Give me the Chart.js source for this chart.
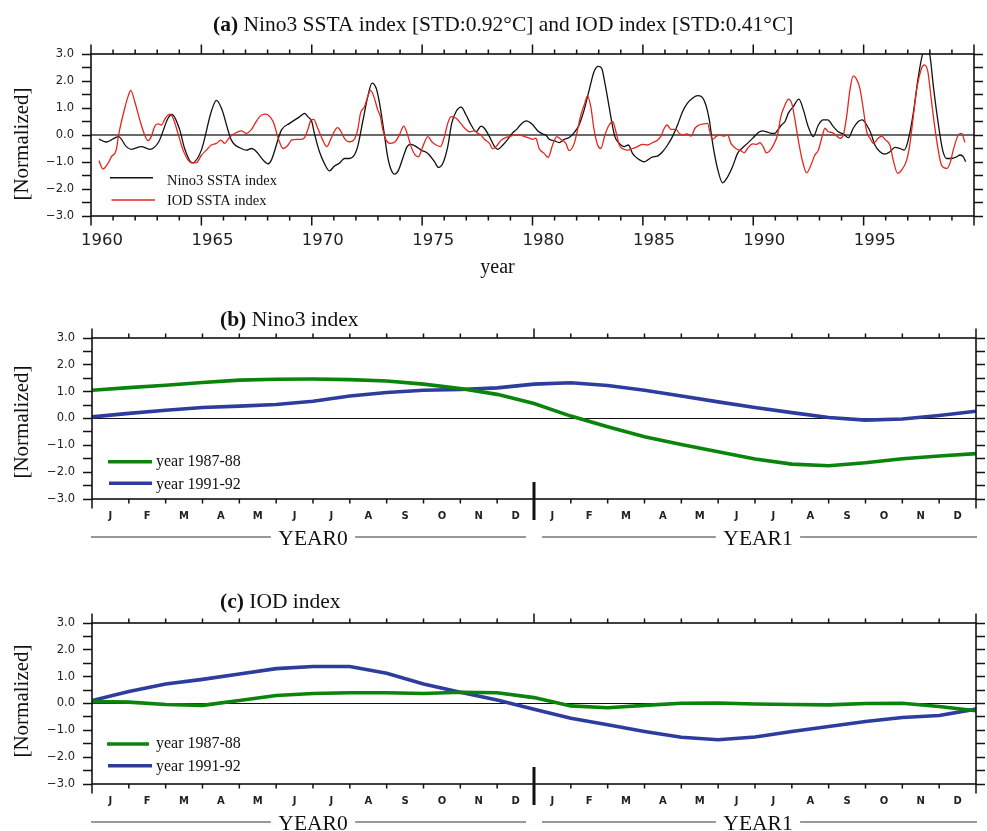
<!DOCTYPE html>
<html>
<head>
<meta charset="utf-8">
<title>Nino3 and IOD indices</title>
<script src="https://cdn.jsdelivr.net/npm/chart.js@4.4.1/dist/chart.umd.min.js"></script>
<style>
  html, body { margin: 0; padding: 0; background: #ffffff; }
  body { position: relative; width: 987px; height: 831px; overflow: hidden; }
  canvas { position: absolute; left: 0; }
</style>
</head>
<body>
<canvas id="panelA" width="987" height="290" style="top:0px"></canvas>
<canvas id="panelB" width="987" height="270" style="top:290px"></canvas>
<canvas id="panelC" width="987" height="256" style="top:575px"></canvas>
<script>
// ---------------- data ----------------
// Normalized monthly indices, [year, value]
const nino3Series = [
  [1960.36,-0.15],[1960.69,-0.26],[1961.25,-0.06],[1961.60,-0.43],[1961.83,-0.53],[1962.28,-0.43],[1962.66,-0.53],
  [1963.07,-0.25],[1963.49,0.62],[1963.67,0.76],[1964.02,0.19],[1964.24,-0.50],[1964.58,-1.03],[1965.00,-0.56],
  [1965.45,0.87],[1965.68,1.28],[1965.91,0.99],[1966.36,-0.19],[1966.81,-0.50],[1967.04,-0.56],[1967.27,-0.50],
  [1967.42,-0.56],[1967.87,-0.99],[1968.02,-1.07],[1968.17,-0.93],[1968.63,0.19],[1969.00,0.43],[1969.46,0.68],
  [1969.68,0.80],[1969.82,0.68],[1970.00,0.50],[1970.12,0.06],[1970.35,-0.62],[1970.57,-1.05],[1970.80,-1.33],
  [1971.03,-1.15],[1971.25,-1.05],[1971.48,-0.87],[1971.71,-0.87],[1971.93,-0.74],[1972.08,-0.43],[1972.31,0.50],
  [1972.54,1.43],[1972.73,1.92],[1972.92,1.73],[1973.07,1.18],[1973.26,0.19],[1973.44,-0.81],[1973.60,-1.30],
  [1973.75,-1.45],[1973.93,-1.30],[1974.12,-0.87],[1974.32,-0.43],[1974.50,-0.35],[1974.73,-0.43],[1974.95,-0.56],
  [1975.18,-0.64],[1975.33,-0.74],[1975.56,-0.99],[1975.74,-1.20],[1975.94,-1.05],[1976.16,-0.43],[1976.34,0.43],
  [1976.54,0.87],[1976.77,1.03],[1976.99,0.74],[1977.22,0.37],[1977.45,0.12],[1977.67,0.33],[1977.82,0.25],
  [1978.05,-0.06],[1978.28,-0.43],[1978.43,-0.53],[1978.66,-0.37],[1978.88,-0.16],[1979.11,0.09],[1979.26,0.19],
  [1979.49,0.41],[1979.71,0.52],[1980.00,0.39],[1980.23,0.16],[1980.45,0.04],[1980.60,0.00],[1980.76,-0.16],
  [1980.98,-0.21],[1981.21,-0.28],[1981.44,-0.16],[1981.66,-0.09],[1981.89,0.09],[1982.11,0.37],[1982.34,0.93],
  [1982.57,1.67],[1982.79,2.35],[1982.98,2.54],[1983.13,2.48],[1983.28,1.92],[1983.47,1.05],[1983.63,0.31],
  [1983.73,-0.06],[1983.93,-0.31],[1984.15,-0.43],[1984.34,-0.37],[1984.53,-0.68],[1984.76,-0.87],[1985.06,-0.99],
  [1985.21,-0.93],[1985.44,-0.81],[1985.66,-0.78],[1985.89,-0.62],[1986.12,-0.37],[1986.34,-0.06],[1986.57,0.37],
  [1986.80,0.87],[1987.02,1.18],[1987.25,1.36],[1987.48,1.46],[1987.66,1.42],[1987.85,1.12],[1988.01,0.56],
  [1988.16,-0.31],[1988.38,-1.24],[1988.61,-1.77],[1988.84,-1.55],[1989.06,-1.18],[1989.29,-0.68],[1989.52,-0.47],
  [1989.75,-0.30],[1990.00,-0.10],[1990.23,0.09],[1990.41,0.15],[1990.60,0.12],[1990.83,0.06],[1990.98,0.06],
  [1991.13,0.21],[1991.28,0.37],[1991.44,0.50],[1991.59,0.81],[1991.81,1.05],[1992.07,1.33],[1992.27,0.93],
  [1992.49,0.31],[1992.72,-0.06],[1992.95,0.37],[1993.17,0.56],[1993.37,0.56],[1993.63,0.31],[1993.85,0.12],
  [1994.08,0.04],[1994.31,-0.10],[1994.53,0.25],[1994.76,0.50],[1994.94,0.56],[1995.14,0.37],[1995.33,0.06],
  [1995.51,-0.37],[1995.74,-0.62],[1995.97,-0.71],[1996.19,-0.62],[1996.42,-0.46],[1996.65,-0.50],[1996.84,-0.56],
  [1997.02,-0.19],[1997.25,0.81],[1997.48,2.17],[1997.66,2.97],[1997.85,3.35],[1998.01,2.91],[1998.16,1.80],
  [1998.38,0.43],[1998.58,-0.56],[1998.76,-0.87],[1998.99,-0.87],[1999.21,-0.81],[1999.37,-0.74],[1999.52,-0.81],
  [1999.62,-0.99]
];
const iodSeries = [
  [1960.36,-0.95],[1960.54,-1.26],[1960.77,-1.05],[1960.92,-0.81],[1961.14,-0.56],[1961.25,0.00],[1961.38,0.50],
  [1961.53,1.00],[1961.68,1.43],[1961.80,1.65],[1961.98,1.24],[1962.21,0.56],[1962.43,0.00],[1962.58,-0.21],
  [1962.73,-0.06],[1962.88,0.31],[1963.04,0.41],[1963.19,0.37],[1963.37,0.62],[1963.57,0.77],[1963.72,0.62],
  [1963.94,0.06],[1964.17,-0.56],[1964.40,-0.93],[1964.58,-1.03],[1964.77,-1.03],[1965.00,-0.75],[1965.23,-0.56],
  [1965.45,-0.37],[1965.68,-0.31],[1965.88,-0.19],[1966.06,-0.31],[1966.21,-0.16],[1966.39,0.00],[1966.59,0.09],
  [1966.81,0.15],[1967.04,0.06],[1967.27,0.21],[1967.42,0.41],[1967.64,0.68],[1967.87,0.77],[1968.02,0.74],
  [1968.25,0.50],[1968.48,-0.12],[1968.70,-0.50],[1968.93,-0.37],[1969.08,-0.19],[1969.31,-0.16],[1969.53,-0.16],
  [1969.68,-0.09],[1969.83,0.22],[1969.97,0.56],[1970.09,0.58],[1970.27,0.25],[1970.50,-0.19],[1970.68,-0.43],
  [1970.88,-0.12],[1971.06,0.19],[1971.18,0.27],[1971.33,0.12],[1971.51,-0.16],[1971.71,-0.25],[1971.90,-0.19],
  [1972.08,0.19],[1972.21,0.81],[1972.39,1.05],[1972.54,1.43],[1972.66,1.65],[1972.81,1.43],[1972.99,0.93],
  [1973.11,0.68],[1973.22,0.19],[1973.37,-0.19],[1973.56,-0.31],[1973.78,-0.25],[1973.97,0.00],[1974.17,0.33],
  [1974.32,0.06],[1974.50,-0.43],[1974.68,-0.74],[1974.83,-0.81],[1975.03,-0.43],[1975.26,-0.06],[1975.44,-0.25],
  [1975.63,-0.37],[1975.83,-0.43],[1976.01,-0.06],[1976.16,0.43],[1976.31,0.68],[1976.54,0.62],[1976.75,0.43],
  [1976.93,0.25],[1977.15,0.12],[1977.37,0.15],[1977.52,0.06],[1977.67,0.00],[1977.82,-0.16],[1978.05,-0.31],
  [1978.19,-0.51],[1978.35,-0.43],[1978.58,-0.19],[1978.80,-0.09],[1978.96,-0.06],[1979.19,0.00],[1979.41,0.00],
  [1979.64,-0.06],[1979.86,-0.12],[1980.00,-0.16],[1980.15,-0.12],[1980.30,-0.50],[1980.53,-0.68],[1980.71,-0.83],
  [1980.91,-0.37],[1981.10,-0.06],[1981.28,-0.16],[1981.51,-0.31],[1981.66,-0.58],[1981.89,-0.31],[1982.04,0.19],
  [1982.19,0.74],[1982.37,1.18],[1982.49,1.45],[1982.64,1.05],[1982.79,0.19],[1982.95,-0.37],[1983.10,-0.50],
  [1983.28,0.00],[1983.47,0.37],[1983.63,0.50],[1983.78,0.12],[1983.93,-0.37],[1984.12,-0.52],[1984.34,-0.56],
  [1984.53,-0.50],[1984.76,-0.43],[1984.98,-0.35],[1985.21,-0.37],[1985.44,-0.28],[1985.66,-0.19],[1985.82,-0.04],
  [1985.97,0.25],[1986.09,0.37],[1986.27,0.21],[1986.50,0.21],[1986.65,0.06],[1986.80,0.00],[1987.00,0.04],
  [1987.18,-0.04],[1987.36,0.25],[1987.55,0.37],[1987.75,0.41],[1987.93,0.43],[1988.05,0.06],[1988.16,-0.16],
  [1988.31,-0.06],[1988.46,0.00],[1988.69,-0.04],[1988.84,0.00],[1988.99,-0.31],[1989.21,-0.50],[1989.44,-0.58],
  [1989.59,-0.66],[1989.74,-0.50],[1989.97,-0.33],[1990.15,-0.35],[1990.30,-0.28],[1990.45,-0.43],[1990.60,-0.66],
  [1990.80,-0.53],[1990.95,-0.31],[1991.10,0.00],[1991.25,0.68],[1991.44,1.12],[1991.59,1.33],[1991.74,1.18],
  [1991.89,0.56],[1992.04,-0.19],[1992.22,-0.93],[1992.42,-1.40],[1992.61,-1.12],[1992.79,-0.74],[1992.95,-0.56],
  [1993.10,-0.12],[1993.25,0.25],[1993.40,0.12],[1993.58,0.09],[1993.73,0.00],[1993.93,-0.12],[1994.08,0.00],
  [1994.23,0.68],[1994.38,1.67],[1994.53,2.19],[1994.68,2.07],[1994.83,1.73],[1994.98,0.99],[1995.14,0.12],
  [1995.29,-0.12],[1995.44,-0.31],[1995.66,-0.12],[1995.82,-0.04],[1996.00,-0.19],[1996.19,-0.37],[1996.34,-0.93],
  [1996.54,-1.42],[1996.72,-1.30],[1996.95,-0.93],[1997.10,-0.31],[1997.25,0.68],[1997.40,1.67],[1997.63,2.48],
  [1997.75,2.60],[1997.91,2.35],[1998.05,1.42],[1998.20,0.43],[1998.38,-0.56],[1998.53,-1.12],[1998.76,-1.24],
  [1998.91,-1.05],[1999.06,-0.56],[1999.29,0.00],[1999.44,0.06],[1999.59,-0.28]
];
const seriesNames = ['Nino3 SSTA index', 'IOD SSTA index'];
const yearTicks = [1960, 1965, 1970, 1975, 1980, 1985, 1990, 1995];

// Two-year composites, values at month boundaries of YEAR0 / YEAR1
const monthLabels = ['J','F','M','A','M','J','J','A','S','O','N','D','J','F','M','A','M','J','J','A','S','O','N','D'];
const phaseLabels = ['YEAR0', 'YEAR1'];
const compositeNames = ['year 1987-88', 'year 1991-92'];
const nino3Year1987 = [1.05,1.15,1.24,1.34,1.43,1.46,1.47,1.45,1.40,1.28,1.12,0.90,0.56,0.09,-0.31,-0.68,-0.97,-1.24,-1.51,-1.70,-1.76,-1.65,-1.50,-1.40,-1.31];
const nino3Year1991 = [0.06,0.19,0.31,0.41,0.46,0.52,0.64,0.84,0.97,1.05,1.08,1.14,1.28,1.33,1.23,1.05,0.84,0.62,0.41,0.22,0.04,-0.06,-0.02,0.11,0.27];
const iodYear1987 = [0.07,0.05,-0.04,-0.07,0.11,0.30,0.37,0.40,0.40,0.37,0.42,0.40,0.22,-0.09,-0.16,-0.07,0.01,0.02,-0.02,-0.04,-0.05,0.00,0.01,-0.11,-0.27];
const iodYear1991 = [0.11,0.45,0.73,0.90,1.10,1.30,1.38,1.38,1.13,0.73,0.42,0.13,-0.21,-0.55,-0.79,-1.04,-1.26,-1.35,-1.25,-1.04,-0.86,-0.67,-0.52,-0.45,-0.21];

const panelTitles = [
  ['(a)', 'Nino3 SSTA index [STD:0.92\u00B0C] and IOD index [STD:0.41\u00B0C]'],
  ['(b)', 'Nino3 index'],
  ['(c)', 'IOD index']
];
const valueAxisTitle = '[Normalized]';
const timeAxisTitle = 'year';

// ---------------- drawing ----------------
const SERIF = '"Liberation Serif", "Times New Roman", Times, serif';
const SANS = '"DejaVu Sans", "Liberation Sans", sans-serif';
const INK = '#111111';

Chart.defaults.animation = false;
Chart.defaults.font.family = SANS;

function valueLabel(v) {
  if (Math.abs(v - Math.round(v)) > 1e-6) return '';
  const r = Math.round(v);
  return (r < 0 ? '\u2212' : '') + Math.abs(r).toFixed(1);
}

function valueScales(leftWidth, rightWidth) {
  const grid = { drawOnChartArea: false, drawTicks: true, tickLength: 9, tickWidth: 1.5, tickColor: INK };
  return {
    y: {
      type: 'linear', position: 'left', min: -3, max: 3,
      grid: { ...grid }, border: { display: false },
      ticks: { stepSize: 0.5, autoSkip: false, padding: 8, color: '#222', font: { family: SANS, size: 11.5 }, callback: valueLabel },
      afterFit: s => { s.width = leftWidth; }
    },
    yRight: {
      type: 'linear', position: 'right', min: -3, max: 3,
      grid: { ...grid }, border: { display: false },
      ticks: { stepSize: 0.5, autoSkip: false, padding: 0, callback: () => '' },
      afterFit: s => { s.width = rightWidth; }
    }
  };
}

// frame, outward tick marks, reference line, titles, legend and year spans
const decor = {
  id: 'decor',
  beforeDatasetsDraw(chart, args, o) {
    const { ctx, chartArea: a } = chart;
    const yz = chart.scales.y.getPixelForValue(0);
    ctx.save();
    ctx.strokeStyle = o.zeroColor;
    ctx.lineWidth = o.zeroWidth;
    ctx.beginPath();
    ctx.moveTo(a.left, yz);
    ctx.lineTo(a.right, yz);
    ctx.stroke();
    ctx.restore();
  },
  afterDraw(chart, args, o) {
    const { ctx, chartArea: a } = chart;
    const xs = chart.scales.x;
    ctx.save();

    ctx.strokeStyle = INK;
    ctx.lineWidth = 1.6;
    ctx.strokeRect(a.left, a.top, a.right - a.left, a.bottom - a.top);

    ctx.lineWidth = 1.5;
    ctx.beginPath();
    const n = Math.round((xs.max - xs.min) / o.minorStep);
    for (let k = 0; k <= n; k++) {
      const px = xs.getPixelForValue(xs.min + k * o.minorStep);
      const len = (k * o.minorStep) % o.majorStep === 0 ? 9.5 : 4.5;
      ctx.moveTo(px, a.top); ctx.lineTo(px, a.top - len);
      ctx.moveTo(px, a.bottom); ctx.lineTo(px, a.bottom + len);
    }
    ctx.stroke();

    if (o.divider) {
      const px = xs.getPixelForValue(o.divider.value);
      ctx.lineWidth = 3;
      ctx.beginPath();
      ctx.moveTo(px, a.bottom - o.divider.up);
      ctx.lineTo(px, a.bottom + o.divider.down);
      ctx.stroke();
    }

    ctx.fillStyle = INK;
    ctx.textBaseline = 'alphabetic';
    ctx.textAlign = 'left';

    // panel title: bold tag followed by plain text
    const t = o.title;
    ctx.font = `bold ${t.size}px ${SERIF}`;
    ctx.fillText(t.tag, t.x, t.y);
    const tagW = ctx.measureText(t.tag + ' ').width;
    ctx.font = `${t.size}px ${SERIF}`;
    ctx.fillText(t.text, t.x + tagW, t.y);

    // value-axis title
    ctx.save();
    ctx.translate(o.yTitle.x, o.yTitle.y);
    ctx.rotate(-Math.PI / 2);
    ctx.textAlign = 'center';
    ctx.textBaseline = 'middle';
    ctx.font = `${o.yTitle.size}px ${SERIF}`;
    ctx.fillText(valueAxisTitle, 0, 0);
    ctx.restore();

    if (o.xTitle) {
      ctx.textAlign = 'center';
      ctx.font = `${o.xTitle.size}px ${SERIF}`;
      ctx.fillText(timeAxisTitle, o.xTitle.x, o.xTitle.y);
    }

    // legend built from the datasets
    const lg = o.legend;
    ctx.textAlign = 'left';
    ctx.font = `${lg.size}px ${SERIF}`;
    chart.data.datasets.forEach((ds, i) => {
      const r = lg.rows[i];
      ctx.strokeStyle = ds.borderColor;
      ctx.lineWidth = lg.lineWidth;
      ctx.beginPath();
      ctx.moveTo(r.x1, r.y);
      ctx.lineTo(r.x2, r.y);
      ctx.stroke();
      ctx.fillStyle = INK;
      ctx.fillText(ds.label, lg.textX, r.base);
    });

    // YEAR0 / YEAR1 spans under the month axis
    if (o.spans) {
      const sp = o.spans;
      ctx.font = `${sp.size}px ${SERIF}`;
      ctx.textAlign = 'center';
      ctx.strokeStyle = '#333';
      ctx.lineWidth = 1;
      sp.items.forEach((it, i) => {
        const label = phaseLabels[i];
        const c = xs.getPixelForValue(it.center) + it.shift;
        const half = ctx.measureText(label).width / 2 + sp.gap;
        const x0 = xs.getPixelForValue(it.from) + it.padL;
        const x1 = xs.getPixelForValue(it.to) + it.padR;
        ctx.fillText(label, c, sp.base);
        ctx.beginPath();
        ctx.moveTo(x0, sp.lineY); ctx.lineTo(c - half, sp.lineY);
        ctx.moveTo(c + half, sp.lineY); ctx.lineTo(x1, sp.lineY);
        ctx.stroke();
      });
    }
    ctx.restore();
  }
};

// ---- panel (a): time series ----
new Chart(document.getElementById('panelA'), {
  type: 'line',
  data: {
    datasets: [
      { label: seriesNames[0], data: nino3Series.map(([x, y]) => ({ x, y })), borderColor: '#111111', borderWidth: 1.3,
        pointRadius: 0, cubicInterpolationMode: 'monotone', fill: false, order: 2 },
      { label: seriesNames[1], data: iodSeries.map(([x, y]) => ({ x, y })), borderColor: '#e3261e', borderWidth: 1.3,
        pointRadius: 0, cubicInterpolationMode: 'monotone', fill: false, order: 1 }
    ]
  },
  options: {
    responsive: false,
    layout: { padding: { top: 54, left: 0, right: 0, bottom: 0 } },
    scales: {
      x: {
        type: 'linear', position: 'bottom', min: 1960, max: 2000,
        afterBuildTicks: s => { s.ticks = yearTicks.map(y => ({ value: y + 0.5 })); },
        ticks: { autoSkip: false, maxRotation: 0, minRotation: 0, padding: 15, color: '#222',
          font: { family: SANS, size: 16.5 }, callback: (v, i) => String(yearTicks[i]) },
        grid: { display: false, drawTicks: false }, border: { display: false },
        afterFit: s => { s.height = 74; }
      },
      ...valueScales(91, 13)
    },
    plugins: {
      legend: { display: false }, tooltip: { enabled: false },
      decor: {
        zeroColor: '#6a6a6a', zeroWidth: 2, minorStep: 1, majorStep: 5,
        title: { tag: panelTitles[0][0], text: panelTitles[0][1], x: 213, y: 31, size: 21.5 },
        yTitle: { x: 22.5, y: 144, size: 21 },
        xTitle: { x: 497.5, y: 273, size: 20 },
        legend: { lineWidth: 1.4, textX: 167, size: 14.5,
          rows: [{ x1: 110, x2: 153, y: 177.7, base: 185 }, { x1: 111.5, x2: 155, y: 200, base: 205 }] }
      }
    }
  },
  plugins: [decor]
});

// ---- panels (b) and (c): two-year composites ----
function compositePanel(id, canvasH, title, seriesA, seriesB, extra) {
  return new Chart(document.getElementById(id), {
    type: 'line',
    data: {
      datasets: [
        { label: compositeNames[0], data: seriesA.map((y, i) => ({ x: i, y })), borderColor: '#0a840a', borderWidth: 3.6,
          pointRadius: 0, tension: 0, fill: false, order: 1 },
        { label: compositeNames[1], data: seriesB.map((y, i) => ({ x: i, y })), borderColor: '#2c3d9e', borderWidth: 3.6,
          pointRadius: 0, tension: 0, fill: false, order: 2 }
      ]
    },
    options: {
      responsive: false,
      layout: { padding: { top: 48, left: 0, right: 0, bottom: 0 } },
      scales: {
        x: {
          type: 'linear', position: 'bottom', min: 0, max: monthLabels.length,
          afterBuildTicks: s => { s.ticks = monthLabels.map((m, i) => ({ value: i + 0.5 })); },
          ticks: { autoSkip: false, maxRotation: 0, minRotation: 0, padding: 11.5, color: '#222',
            font: { family: SANS, size: 10, weight: 'bold' }, callback: (v, i) => monthLabels[i] },
          grid: { display: false, drawTicks: false }, border: { display: false },
          afterFit: s => { s.height = canvasH - 209; }
        },
        ...valueScales(92, 11)
      },
      plugins: {
        legend: { display: false }, tooltip: { enabled: false },
        decor: Object.assign({
          zeroColor: '#111111', zeroWidth: 1, minorStep: 1, majorStep: 12,
          title: { tag: title[0], text: title[1], x: 220, y: extra.titleY, size: 21.5 },
          divider: { value: 12, up: 17, down: 21 },
          spans: { size: 21.5, base: 255, lineY: 247, gap: 7.5,
            items: [{ from: 0, to: 12, center: 6, shift: 0, padL: -1, padR: -8 },
                    { from: 12, to: 24, center: 18, shift: 3, padL: 8, padR: 1 }] }
        }, extra.decor)
      }
    },
    plugins: [decor]
  });
}

compositePanel('panelB', 270, panelTitles[1], nino3Year1987, nino3Year1991, {
  titleY: 36,
  decor: {
    yTitle: { x: 22.5, y: 132, size: 21 },
    legend: { lineWidth: 3.6, textX: 156, size: 16,
      rows: [{ x1: 108, x2: 152, y: 171.7, base: 175.7 }, { x1: 109, x2: 152, y: 193.3, base: 199 }] }
  }
});

compositePanel('panelC', 256, panelTitles[2], iodYear1987, iodYear1991, {
  titleY: 33.3,
  decor: {
    yTitle: { x: 22.5, y: 126, size: 21 },
    legend: { lineWidth: 3.6, textX: 156, size: 16,
      rows: [{ x1: 107, x2: 149, y: 169, base: 173.3 }, { x1: 108, x2: 152, y: 190.7, base: 195.7 }] }
  }
});
</script>
</body>
</html>
